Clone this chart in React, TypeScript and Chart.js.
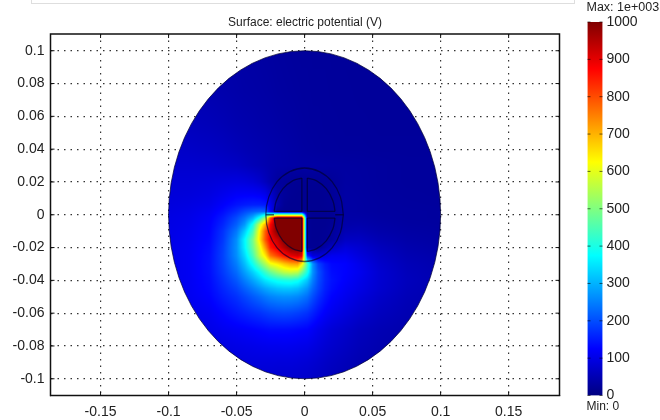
import React, { useEffect, useRef } from "react";
import { Chart, registerables } from "chart.js";

Chart.register(...registerables);

const titleText = "Surface: electric potential (V)";
const xTickValues = [-0.15, -0.1, -0.05, 0, 0.05, 0.1, 0.15];
const yTickValues = [-0.1, -0.08, -0.06, -0.04, -0.02, 0, 0.02, 0.04, 0.06, 0.08, 0.1];
const barTickValues = [0, 100, 200, 300, 400, 500, 600, 700, 800, 900, 1000];
const maxLabel = "Max: 1e+003";
const minLabel = "Min: 0";

const diskRadius = 0.1;
const fieldX = [-0.1, -0.085, -0.07, -0.06, -0.05, -0.044, -0.038, -0.033, -0.029, -0.025, -0.02, -0.015, -0.01, -0.005, -0.002, 0.002, 0.006, 0.01, 0.015, 0.02, 0.03, 0.04, 0.055, 0.075, 0.1];
const fieldY = [0.1, 0.075, 0.055, 0.04, 0.03, 0.02, 0.012, 0.006, 0.002, -0.002, -0.006, -0.01, -0.015, -0.02, -0.025, -0.03, -0.035, -0.04, -0.045, -0.05, -0.06, -0.07, -0.08, -0.09, -0.1];
const fieldRows = [
  [45,44,42,40,38,36,35,34,33,32,31,30,29,28,28,28,27,27,27,26,26,25,25,24,24],
  [52,50,47,44,41,39,38,37,36,35,33,32,31,30,29,29,28,28,28,27,27,26,26,25,25],
  [62,60,56,52,47,45,43,41,40,39,37,35,34,32,31,30,29,29,28,28,27,27,26,26,26],
  [72,70,66,62,56,52,49,47,45,43,41,39,37,35,33,32,31,30,29,29,28,28,27,27,27],
  [78,78,76,72,68,62,56,52,48,44,41,40,38,37,36,36,36,36,35,34,33,32,30,28,28],
  [85,85,88,92,95,92,86,76,62,46,30,25,22,20,20,20,20,20,22,24,34,33,30,28,28],
  [88,90,96,108,120,122,122,118,108,80,38,26,20,18,18,18,18,18,20,24,36,34,31,29,28],
  [92,96,104,122,142,150,155,155,150,105,45,22,18,18,18,18,18,18,20,22,37,35,32,30,29],
  [95,100,112,135,168,195,215,225,220,120,22,18,18,18,20,18,18,18,18,20,37,35,32,31,30],
  [98,103,118,150,198,240,300,400,520,800,1000,1000,1000,1000,1000,25,18,18,18,20,38,38,34,31,30],
  [99,105,122,160,218,275,395,580,700,880,1000,1000,1000,1000,1000,22,18,18,18,22,42,44,38,33,31],
  [100,108,125,172,242,325,440,635,780,900,1000,1000,1000,1000,1000,22,18,18,20,25,50,52,42,36,33],
  [102,110,129,178,264,370,490,650,790,890,930,1000,1000,1000,1000,22,18,18,22,30,65,65,50,40,35],
  [104,112,133,185,268,365,480,600,720,850,900,950,1000,1000,1000,22,20,20,40,65,90,80,60,45,38],
  [105,113,136,188,264,340,445,570,640,760,810,860,900,920,900,170,90,85,95,110,110,92,68,50,42],
  [105,113,137,186,248,310,390,475,540,610,640,680,710,720,640,440,270,190,150,130,125,105,75,55,45],
  [105,113,136,180,230,280,330,380,430,480,525,560,575,560,490,400,270,205,160,135,125,110,80,58,47],
  [104,113,133,170,210,248,285,320,350,370,390,400,405,390,360,320,250,200,160,140,122,105,80,60,48],
  [102,112,130,160,190,218,245,268,287,302,316,322,322,312,295,270,225,190,155,135,115,100,78,58,47],
  [100,110,125,150,172,192,212,228,242,254,262,266,265,258,248,232,200,172,145,125,108,92,72,55,46],
  [92,102,112,128,145,155,165,172,180,187,192,194,192,186,180,172,155,138,120,108,92,78,62,50,43],
  [84,92,102,110,116,120,124,128,131,134,134,134,133,130,128,125,115,105,95,85,74,62,52,44,40],
  [76,84,90,95,100,102,104,106,107,108,108,109,108,106,104,102,96,90,82,76,66,56,47,41,37],
  [70,76,82,85,88,90,91,91,91,91,90,90,90,88,86,84,80,76,70,65,57,49,42,38,35],
  [64,68,74,76,78,80,80,80,79,79,78,78,78,76,75,73,70,66,62,57,50,44,39,36,33],
];

const outerRing = [
  [0.0285,0],[0.0263,0.0109],[0.0202,0.0202],[0.0109,0.0263],[0,0.0285],[-0.0109,0.0263],[-0.0202,0.0202],[-0.0263,0.0109],
  [-0.0285,0],[-0.0263,-0.0109],[-0.0202,-0.0202],[-0.0109,-0.0263],[0,-0.0285],[0.0109,-0.0263],[0.0202,-0.0202],[0.0263,-0.0109],[0.0285,0],
];
const arcUpperRight = [[0.0224,0.002],[0.0208,0.0086],[0.0159,0.0159],[0.0086,0.0208],[0.002,0.0224]];
const arcUpperLeft = [[-0.0224,0.002],[-0.0208,0.0086],[-0.0159,0.0159],[-0.0086,0.0208],[-0.002,0.0224]];
const arcLowerRight = [[0.0224,-0.002],[0.0208,-0.0086],[0.0159,-0.0159],[0.0086,-0.0208],[0.002,-0.0224]];
const arcLowerLeft = [[-0.0224,-0.002],[-0.0208,-0.0086],[-0.0159,-0.0159],[-0.0086,-0.0208],[-0.002,-0.0224]];
const crossLines = [
  [[0.002,0.002],[0.0224,0.002]],[[0.002,0.002],[0.002,0.0224]],
  [[-0.002,0.002],[-0.0224,0.002]],[[-0.002,0.002],[-0.002,0.0224]],
  [[0.002,-0.002],[0.0224,-0.002]],[[0.002,-0.002],[0.002,-0.0224]],
  [[-0.002,-0.002],[-0.0224,-0.002]],[[-0.002,-0.002],[-0.002,-0.0224]],
  [[-0.0285,0],[-0.0225,0]],[[0.0225,0],[0.0285,0]],
];
const conductorShape = [
  [-0.002,-0.002],[-0.0224,-0.002],[-0.0221,-0.0044],[-0.0208,-0.0086],[-0.0187,-0.0125],[-0.0159,-0.0159],
  [-0.0125,-0.0187],[-0.0086,-0.0208],[-0.0044,-0.0221],[-0.002,-0.0224],[-0.002,-0.002],
];

const FONT = "'Liberation Sans', Arial, sans-serif";
const INK = "#222222";
const toXY = (pts: number[][]) => pts.map(([x, y]) => ({ x, y }));

function jet(v: number): [number, number, number] {
  const t = Math.min(1, Math.max(0, v / 1000));
  const c = (a: number) => Math.round(255 * Math.min(1, Math.max(0, 1.5 - Math.abs(4 * t - a))));
  return [c(3), c(2), c(1)];
}

function findCell(nodes: number[], value: number) {
  const rising = nodes[1] > nodes[0];
  for (let i = 0; i < nodes.length - 1; i++) {
    const a = nodes[i], b = nodes[i + 1];
    if (rising ? value <= b : value >= b) return { i, f: Math.min(1, Math.max(0, (value - a) / (b - a))) };
  }
  return { i: nodes.length - 2, f: 1 };
}

const surfacePlugin = {
  id: "surface",
  beforeDatasetDraw(chart: any, args: any) {
    if (!chart.data.datasets[args.index].isSurface) return;
    const { x: sx, y: sy } = chart.scales;
    const ctx = chart.ctx;
    const cx = sx.getPixelForValue(0), cy = sy.getPixelForValue(0);
    const rx = sx.getPixelForValue(diskRadius) - cx;
    const ry = cy - sy.getPixelForValue(diskRadius);
    const x0 = Math.floor(cx - rx), y0 = Math.floor(cy - ry);
    const w = Math.ceil(2 * rx) + 2, h = Math.ceil(2 * ry) + 2;
    const off = document.createElement("canvas");
    off.width = w; off.height = h;
    const octx = off.getContext("2d")!;
    const img = octx.createImageData(w, h);
    for (let py = 0; py < h; py++) {
      const yc = findCell(fieldY, sy.getValueForPixel(y0 + py + 0.5));
      for (let px = 0; px < w; px++) {
        const xc = findCell(fieldX, sx.getValueForPixel(x0 + px + 0.5));
        const top = fieldRows[yc.i], bot = fieldRows[yc.i + 1];
        const a = top[xc.i] + (top[xc.i + 1] - top[xc.i]) * xc.f;
        const b = bot[xc.i] + (bot[xc.i + 1] - bot[xc.i]) * xc.f;
        const [r, g, bl] = jet(a + (b - a) * yc.f);
        const k = (py * w + px) * 4;
        img.data[k] = r; img.data[k + 1] = g; img.data[k + 2] = bl; img.data[k + 3] = 255;
      }
    }
    octx.putImageData(img, 0, 0);
    ctx.save();
    ctx.beginPath();
    ctx.ellipse(cx, cy, rx, ry, 0, 0, Math.PI * 2);
    ctx.clip();
    ctx.drawImage(off, x0, y0);
    ctx.restore();
    ctx.save();
    ctx.beginPath();
    ctx.ellipse(cx, cy, rx, ry, 0, 0, Math.PI * 2);
    ctx.strokeStyle = "rgba(0,0,50,0.7)";
    ctx.lineWidth = 1;
    ctx.stroke();
    ctx.restore();
    return false;
  },
};

const framePlugin = {
  id: "frame",
  afterDraw(chart: any) {
    const { ctx, chartArea: a, scales } = chart;
    ctx.save();
    ctx.strokeStyle = "#111";
    ctx.lineWidth = 1.5;
    ctx.strokeRect(a.left, a.top, a.right - a.left, a.bottom - a.top);
    ctx.lineWidth = 1;
    ctx.beginPath();
    xTickValues.forEach((v) => {
      const p = scales.x.getPixelForValue(v);
      ctx.moveTo(p, a.top); ctx.lineTo(p, a.top + 4);
      ctx.moveTo(p, a.bottom); ctx.lineTo(p, a.bottom - 4);
    });
    yTickValues.forEach((v) => {
      const p = scales.y.getPixelForValue(v);
      ctx.moveTo(a.left, p); ctx.lineTo(a.left + 4, p);
      ctx.moveTo(a.right, p); ctx.lineTo(a.right - 4, p);
    });
    ctx.stroke();
    ctx.restore();
  },
};

const barLabelPlugin = {
  id: "barLabels",
  afterDraw(chart: any) {
    const { ctx, chartArea: a, scales } = chart;
    ctx.save();
    ctx.fillStyle = INK;
    ctx.font = `12.5px ${FONT}`;
    ctx.textBaseline = "middle";
    ctx.fillText(maxLabel, a.left - 1, 8);
    ctx.font = `12px ${FONT}`;
    ctx.fillText(minLabel, a.left - 1, 407);
    ctx.strokeStyle = "rgba(0,0,0,0.6)";
    ctx.beginPath();
    barTickValues.forEach((v) => {
      const p = scales.y.getPixelForValue(v);
      ctx.moveTo(a.left, p); ctx.lineTo(a.left + 3, p);
      ctx.moveTo(a.right, p); ctx.lineTo(a.right - 3, p);
    });
    ctx.stroke();
    ctx.restore();
  },
};

const lineSet = (pts: number[][], tension = 0) => ({
  data: toXY(pts),
  showLine: true,
  tension,
  borderColor: "rgba(0,0,40,0.62)",
  borderWidth: 1.3,
  pointRadius: 0,
  order: 1,
});

export default function App() {
  const mainRef = useRef<HTMLCanvasElement>(null);
  const barRef = useRef<HTMLCanvasElement>(null);

  useEffect(() => {
    const axisFont = { family: FONT, size: 14 };
    const gridOpts = { color: "#333", drawTicks: false, lineWidth: 1.2 };
    const surfacePoints = fieldY.flatMap((y, r) => fieldX.map((x, c) => ({ x, y, v: fieldRows[r][c] })));
    const main = new Chart(mainRef.current!, {
      type: "scatter",
      data: {
        datasets: [
          ...crossLines.map((l) => lineSet(l)),
          lineSet(outerRing, 0.4),
          lineSet(arcUpperRight, 0.4),
          lineSet(arcUpperLeft, 0.4),
          lineSet(arcLowerRight, 0.4),
          lineSet(arcLowerLeft, 0.4),
          {
            data: toXY(conductorShape),
            showLine: true,
            fill: "shape",
            backgroundColor: "#800000",
            borderColor: "#800000",
            borderWidth: 0,
            pointRadius: 0,
            order: 2,
          },
          { isSurface: true, data: surfacePoints, pointRadius: 0, order: 10 } as any,
        ],
      },
      options: {
        responsive: false,
        animation: false,
        layout: { padding: { left: 0, right: 100.5, top: 0, bottom: 0 } },
        plugins: {
          legend: { display: false },
          tooltip: { enabled: false },
          title: {
            display: true,
            text: titleText,
            fullSize: false,
            color: INK,
            font: { family: FONT, size: 12, weight: "normal" },
            padding: { top: 15.6, bottom: 4 },
          },
        },
        scales: {
          x: {
            type: "linear",
            min: -0.1868,
            max: 0.1874,
            afterBuildTicks: (s: any) => { s.ticks = xTickValues.map((value) => ({ value })); },
            afterFit: (s: any) => { s.height = 24.5; },
            grid: gridOpts,
            border: { color: "#111", dash: [1.5, 5] },
            ticks: { color: INK, font: axisFont, padding: 8, maxRotation: 0, autoSkip: false, callback: (v: any) => String(v) },
          },
          y: {
            type: "linear",
            min: -0.1102,
            max: 0.1102,
            afterBuildTicks: (s: any) => { s.ticks = yTickValues.map((value) => ({ value })); },
            afterFit: (s: any) => { s.width = 50.5; },
            grid: gridOpts,
            border: { color: "#111", dash: [1.5, 5] },
            ticks: { color: INK, font: axisFont, padding: 6, autoSkip: false, callback: (v: any) => String(v) },
          },
        },
      } as any,
      plugins: [surfacePlugin, framePlugin],
    } as any);

    const bar = new Chart(barRef.current!, {
      type: "bar",
      data: {
        labels: [""],
        datasets: [{
          data: [[0, 1000]],
          barPercentage: 1,
          categoryPercentage: 1,
          borderWidth: 0,
          backgroundColor: (c: any) => {
            const { chart } = c;
            const area = chart.chartArea;
            if (!area || !Number.isFinite(area.top) || !Number.isFinite(area.bottom)) return "#0000ff";
            const g = chart.ctx.createLinearGradient(0, area.bottom, 0, area.top);
            barTickValues.concat([125, 375, 625, 875]).sort((a, b) => a - b).forEach((v) => {
              const [r, gr, b] = jet(v);
              g.addColorStop(v / 1000, `rgb(${r},${gr},${b})`);
            });
            return g;
          },
        }],
      },
      options: {
        responsive: false,
        animation: false,
        layout: { padding: { left: 27.5, right: 0, top: 22, bottom: 24.5 } },
        plugins: { legend: { display: false }, tooltip: { enabled: false }, title: { display: false } },
        scales: {
          x: { display: false },
          y: {
            position: "right",
            min: 0,
            max: 1000,
            afterBuildTicks: (s: any) => { s.ticks = barTickValues.map((value) => ({ value })); },
            afterFit: (s: any) => { s.width = 57.5; },
            grid: { display: false, drawTicks: false },
            border: { display: false },
            ticks: { color: INK, font: axisFont, padding: 4, autoSkip: false, callback: (v: any) => String(v) },
          },
        },
      } as any,
      plugins: [barLabelPlugin],
    } as any);

    return () => { main.destroy(); bar.destroy(); };
  }, []);

  return (
    <div style={{ position: "fixed", left: 0, top: 0, width: 660, height: 420, background: "#fff", overflow: "hidden" }}>
      <div style={{ position: "absolute", left: 31, top: -1, width: 542, height: 4, borderLeft: "1px solid #dedede", borderRight: "1px solid #dedede", borderBottom: "1px solid #dedede" }} />
      <canvas ref={mainRef} width={660} height={420} style={{ position: "absolute", left: 0, top: 0, display: "block" }} />
      <canvas ref={barRef} width={100} height={420} style={{ position: "absolute", left: 560, top: 0, display: "block" }} />
    </div>
  );
}
